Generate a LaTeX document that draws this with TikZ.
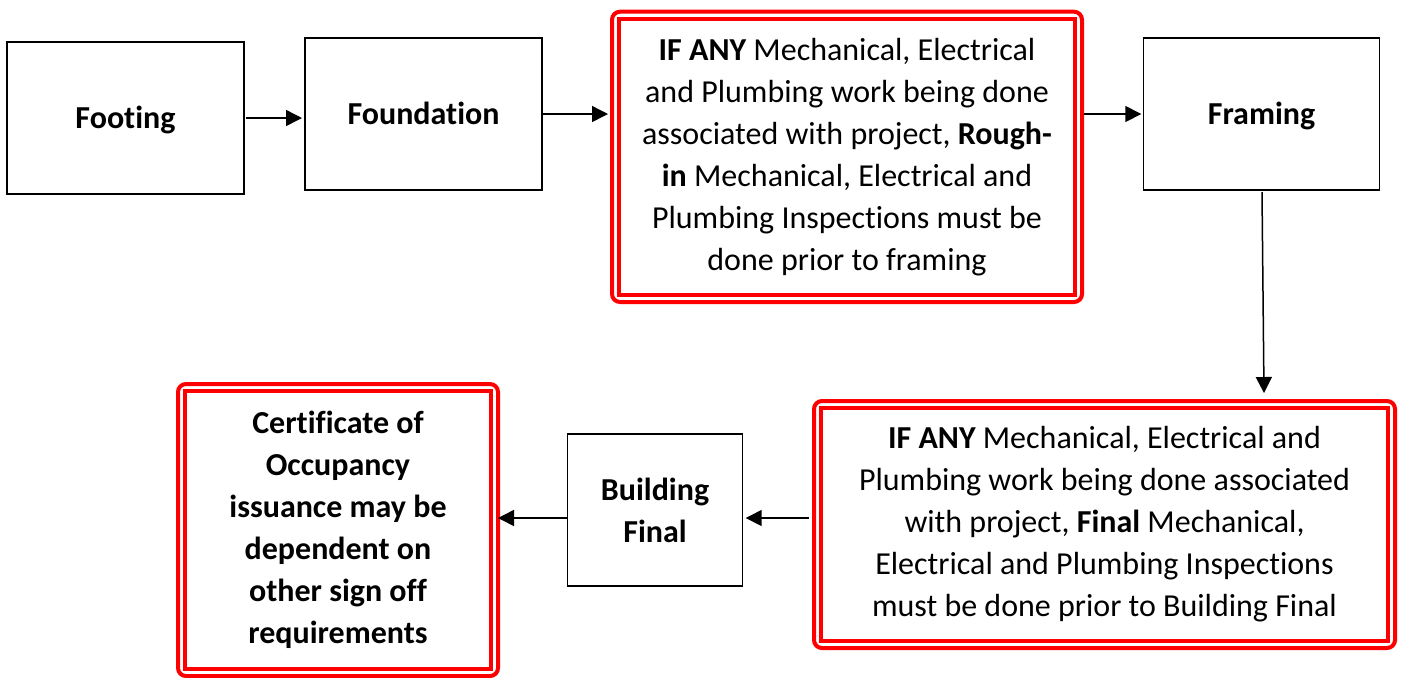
\documentclass[tikz,border=0pt]{standalone}
\usepackage{fontspec}
\setmainfont{Carlito}[Ligatures=CommonOff]
\usetikzlibrary{arrows.meta,fit}
\definecolor{redc}{RGB}{255,0,0}
\begin{document}
\begin{tikzpicture}[x=0.5pt,y=-0.5pt,
  txt/.style={font=\fontsize{16}{21}\selectfont},
  box/.style={draw=black, line width=0.75pt, align=center, inner sep=0pt, outer sep=0pt, font=\fontsize{16}{21}\selectfont\bfseries},
  onebox/.style={box, text height=10.5pt, text depth=0pt},
  redin/.style={draw=redc, line width=2pt, align=center, inner sep=0pt, outer sep=0pt, txt},
  redout/.style={draw=redc, line width=2pt, rounded corners=4pt, inner sep=3.5pt, outer sep=0pt},
  arr/.style={-{Triangle[length=8pt,width=8pt]}, line width=0.75pt}]
\useasboundingbox (0,0) rectangle (1403,677);

\node[onebox, minimum width=118.5pt, minimum height=76pt] (ft) at (125.5,118) {Footing};
\node[onebox, minimum width=118.5pt, minimum height=76pt] (fd) at (423.5,114) {Foundation};
\node[onebox, minimum width=118.2pt, minimum height=76.2pt] (fr) at (1261.5,114) {Framing};
\node[box, minimum width=87.7pt, minimum height=75.8pt] (bf) at (655,510) {Building\\Final};

\node[redin, minimum width=228pt, minimum height=138.15pt] (b1) at (847,156.85)
  {{\bfseries IF ANY} Mechanical, Electrical\\and Plumbing work being done\\associated with project, {\bfseries Rough-}\\{\bfseries in} Mechanical, Electrical and\\Plumbing Inspections must be\\done prior to framing};
\node[redout, fit=(b1)] (b1o) {};

\node[redin, minimum width=283.5pt, minimum height=116.5pt] (b2) at (1104.5,524.5)
  {{\bfseries IF ANY} Mechanical, Electrical and\\Plumbing work being done associated\\with project, {\bfseries Final} Mechanical,\\Electrical and Plumbing Inspections\\must be done prior to Building Final};
\node[redout, fit=(b2)] (b2o) {};

\node[redin, minimum width=153pt, minimum height=139pt, font=\fontsize{16}{21}\selectfont\bfseries] (co) at (338,530)
  {Certificate of\\Occupancy\\issuance may be\\dependent on\\other sign off\\requirements};
\node[redout, fit=(co)] (coo) {};

\coordinate (t2) at (1264,393);
\coordinate (a5) at (809,518);

\draw[arr, shorten <=1pt, shorten >=1.5pt] (ft.east) -- (ft.east -| fd.west);
\draw[arr, shorten >=2pt] (fd.east) -- (fd.east -| b1o.west);
\draw[arr, shorten <=1pt, shorten >=1pt] (b1o.east |- fr.west) -- (fr.west);
\draw[arr] ([xshift=0.25pt,yshift=-1pt]fr.south) -- (t2);
\draw[arr, shorten >=1.5pt] (a5) -- (a5 -| bf.east);
\draw[arr] ([yshift=-4pt]bf.west) -- ([yshift=-4pt]bf.west -| coo.east);
\end{tikzpicture}
\end{document}
